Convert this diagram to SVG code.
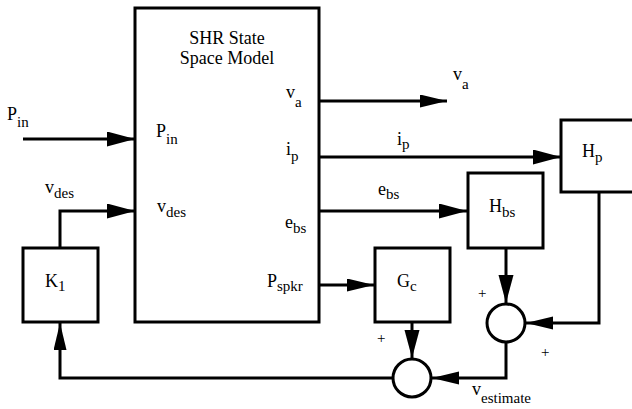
<svg xmlns="http://www.w3.org/2000/svg" width="632" height="409" viewBox="0 0 632 409">
<style>
.box{fill:#fff;stroke:#000;stroke-width:3}
.ln{fill:none;stroke:#000;stroke-width:3}
text{font-family:'Liberation Serif','Times New Roman','DejaVu Serif',serif;font-size:18px;fill:#000}
.sub{font-size:15px}
.pl{font-size:15px}
.c{text-anchor:middle}
</style>
<defs>
<marker id="ah" markerUnits="userSpaceOnUse" markerWidth="30" markerHeight="16" refX="28" refY="7.5" orient="auto">
<polygon points="0,0 28,7.5 0,15" fill="#000"/>
</marker>
<marker id="as" markerUnits="userSpaceOnUse" markerWidth="30" markerHeight="16" refX="27" refY="6.5" orient="auto">
<polygon points="0,0 27,6.5 0,13" fill="#000"/>
</marker>
</defs>
<g id="connectors">
<path class="ln" d="M23 139H135" marker-end="url(#ah)"/>
<path class="ln" d="M60 248V211H135" marker-end="url(#ah)"/>
<path class="ln" d="M319 101H447" marker-end="url(#as)"/>
<path class="ln" d="M319 157H561" marker-end="url(#ah)"/>
<path class="ln" d="M319 211H467" marker-end="url(#ah)"/>
<path class="ln" d="M319 285H374" marker-end="url(#as)"/>
<path class="ln" d="M412 322V358" marker-end="url(#ah)"/>
<path class="ln" d="M506 248V303" marker-end="url(#ah)"/>
<path class="ln" d="M599 192V323H526" marker-end="url(#as)"/>
<path class="ln" d="M506 342V378H432" marker-end="url(#as)"/>
<path class="ln" d="M393 378H60V323" marker-end="url(#as)"/>
</g>
<g id="model">
<rect class="box" x="135" y="8" width="184" height="314"/>
<text class="c" x="227" y="44">SHR State</text>
<text class="c" x="227" y="64">Space Model</text>
<text x="286" y="98">v<tspan class="sub" dy="9">a</tspan></text>
<text x="156" y="137">P<tspan class="sub" dy="7">in</tspan></text>
<text x="286" y="155">i<tspan class="sub" dy="6">p</tspan></text>
<text x="157" y="212">v<tspan class="sub" dy="5">des</tspan></text>
<text x="285" y="228">e<tspan class="sub" dy="5">bs</tspan></text>
<text x="267" y="287">P<tspan class="sub" dy="4">spkr</tspan></text>
</g>
<g id="K1">
<rect class="box" x="23" y="248" width="75" height="74"/>
<text x="45" y="287">K<tspan class="sub" dy="4">1</tspan></text>
</g>
<g id="Gc">
<rect class="box" x="375" y="248" width="75" height="74"/>
<text x="397" y="287">G<tspan class="sub" dy="4">c</tspan></text>
</g>
<g id="Hbs">
<rect class="box" x="468" y="173" width="75" height="75"/>
<text x="489" y="212">H<tspan class="sub" dy="5">bs</tspan></text>
</g>
<g id="Hp">
<rect class="box" x="561" y="120" width="80" height="72"/>
<text x="582" y="157">H<tspan class="sub" dy="5">p</tspan></text>
</g>
<g id="sum1">
<circle class="box" cx="506" cy="323" r="19"/>
</g>
<g id="sum2">
<circle class="box" cx="412" cy="378" r="19"/>
</g>
<g id="labels">
<text x="7" y="120">P<tspan class="sub" dy="7">in</tspan></text>
<text x="45" y="193">v<tspan class="sub" dy="5">des</tspan></text>
<text x="453" y="80">v<tspan class="sub" dy="9">a</tspan></text>
<text x="397" y="145">i<tspan class="sub" dy="4">p</tspan></text>
<text x="378" y="195">e<tspan class="sub" dy="4">bs</tspan></text>
<text class="pl" x="377" y="343">+</text>
<text class="pl" x="478" y="298">+</text>
<text class="pl" x="541" y="357">+</text>
<text x="472" y="395">v<tspan class="sub" dy="8">estimate</tspan></text>
</g>
</svg>
